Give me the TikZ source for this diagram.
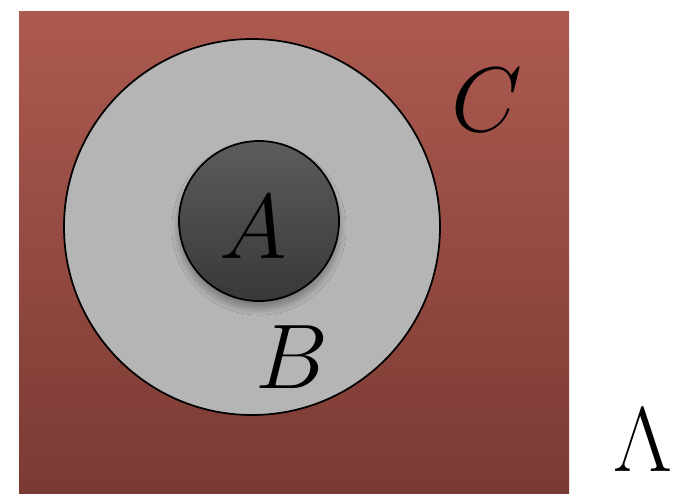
\documentclass[tikz,border=0pt]{standalone}
\usepackage{amsmath,amssymb}
\usepackage{graphicx}
\usepackage{xcolor}
\usepackage{tikz}
\usetikzlibrary{shadows.blur}
\definecolor{ctop}{HTML}{AD5A50}
\definecolor{cbot}{HTML}{7A3A33}
\definecolor{bfill}{HTML}{B5B5B5}
\definecolor{atop}{HTML}{5C5C5C}
\definecolor{abot}{HTML}{383838}
\tikzset{
  setC/.style={top color=ctop,bottom color=cbot,draw=none},
  setB/.style={fill=bfill,draw=black,line width=1pt},
  setA/.style={top color=atop,bottom color=abot,draw=black,line width=1pt,
    blur shadow={shadow xshift=0pt,shadow yshift=-4pt,shadow blur radius=4pt,shadow blur steps=16,shadow opacity=35}},
  lbl/.style={inner sep=0pt,font=\Huge}
}
\newcommand{\biglbl}[1]{\scalebox{2.1}{$#1$}}
\begin{document}
\begin{tikzpicture}
\useasboundingbox (0,0) rectangle (13.46,9.86);
\fill[setC] (0.38,0) rectangle (11.38,9.64);
\node[setB,circle,minimum size=7.52cm,inner sep=0pt] (B) at (5.04,5.32) {};
\node[setA,circle,minimum size=3.2cm,inner sep=0pt] (A) at (5.18,5.44) {};
\node[lbl] (lA) at (5.06,5.32) {\biglbl{A}};
\node[lbl] (lB) at (5.84,2.72) {\biglbl{B}};
\node[lbl] (lC) at (9.74,7.86) {\biglbl{C}};
\node[lbl] (lL) at (12.86,1.06) {\biglbl{\Lambda}};
\end{tikzpicture}
\end{document}
